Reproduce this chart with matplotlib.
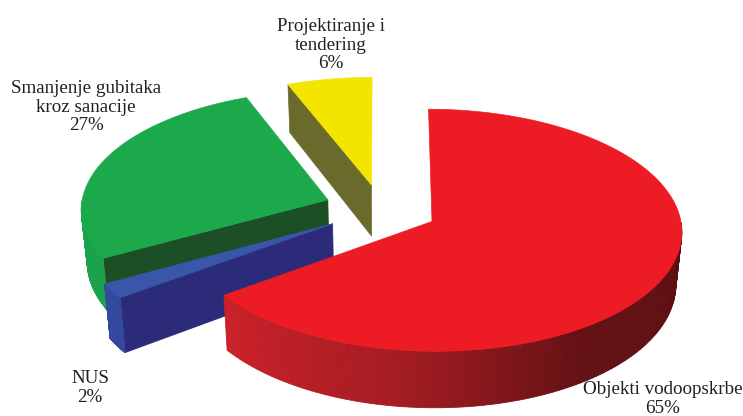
import numpy as np
import matplotlib
matplotlib.use("Agg")
import matplotlib.pyplot as plt
from matplotlib.patches import Polygon
from matplotlib.colors import LinearSegmentedColormap

# data
labels = ["Objekti vodoopskrbe", "NUS", "Smanjenje gubitaka\nkroz sanacije",
          "Projektiranje i\ntendering"]
values = [65, 2, 27, 6]

# style
top_colors = ["#ED1C24", "#3A56A8", "#1BA94C", "#F4E500"]
wall_colors = [[(0.0, "#CC2129"), (0.3, "#A81D23"), (0.6, "#661215"), (1.0, "#5A0F11")],
               [(0.0, "#34489E"), (1.0, "#34489E")],
               [(0.0, "#1DA24C"), (1.0, "#1DA24C")],
               [(0.0, "#6B6B2E"), (1.0, "#6B6B2E")]]
cut_colors = ["#7A1418", "#2B2B7A", "#1C4F25", "#6B6A2D"]
explode = [0.23, 0.23, 0.23, 0.21]
label_pos = [(663, 399), (88, 107), (86, 107), (331, 45)]
label_pos[1] = (90, 388)

# projection (pixel units, y down)
CX, CY = 381, 209
R, T, H = 247, 0.48, 52
K = 0.072


def proj(X, Y, Z):
    s = 1.0 / (1.0 + K * Y)
    sz = 1.0 + 0.02 * Z
    return CX + R * X * s * sz, CY - R * T * Y * s - Z * H * s


fig = plt.figure(figsize=(7.43, 4.16), dpi=100)
ax = fig.add_axes([0, 0, 1, 1])
ax.set_xlim(0, 743)
ax.set_ylim(416, 0)
ax.axis("off")

total = float(sum(values))
cum = np.concatenate([[0], np.cumsum(values)]) / total * 360.0
spans = [(90 - cum[i + 1], 90 - cum[i]) for i in range(len(values))]

slices = []
for i, (t1, t2) in enumerate(spans):
    mid = np.radians((t1 + t2) / 2)
    ox, oy = explode[i] * np.cos(mid), explode[i] * np.sin(mid)
    slices.append((i, t1, t2, ox, oy))

# back to front: yellow, green, blue, red
order = [3, 2, 1, 0]
for i in order:
    _, t1, t2, ox, oy = slices[i]
    th = np.radians(np.linspace(t1, t2, 200))

    # cut faces
    for ang, vis in ((t2, np.cos(np.radians(t2)) < -1e-6),
                     (t1, np.cos(np.radians(t1)) > 1e-6)):
        if not vis:
            continue
        a = np.radians(ang)
        pts = [proj(ox, oy, 0), proj(ox + np.cos(a), oy + np.sin(a), 0),
               proj(ox + np.cos(a), oy + np.sin(a), -1), proj(ox, oy, -1)]
        ax.add_patch(Polygon(pts, closed=True, facecolor=cut_colors[i],
                             edgecolor=cut_colors[i], lw=0.5))

    # outer wall, front part only
    front = np.sin(th) < 0
    if front.any():
        tf = th[front]
        cmap = LinearSegmentedColormap.from_list("w", wall_colors[i])
        n = len(tf)
        for k in range(n - 1):
            a0, a1 = tf[k], tf[k + 1]
            pts = [proj(ox + np.cos(a0), oy + np.sin(a0), 0),
                   proj(ox + np.cos(a1), oy + np.sin(a1), 0),
                   proj(ox + np.cos(a1), oy + np.sin(a1), -1),
                   proj(ox + np.cos(a0), oy + np.sin(a0), -1)]
            c = cmap(k / max(n - 2, 1))
            ax.add_patch(Polygon(pts, closed=True, facecolor=c,
                                 edgecolor=c, lw=0.6))

    # top face
    pts = [proj(ox, oy, 0)] + [proj(ox + np.cos(a), oy + np.sin(a), 0) for a in th]
    ax.add_patch(Polygon(pts, closed=True, facecolor=top_colors[i],
                         edgecolor=top_colors[i], lw=0.5))

for i in range(len(values)):
    x, y = label_pos[i]
    ax.text(x, y, f"{labels[i]}\n{values[i]}%", ha="center", va="center",
            fontsize=13.7, family="Liberation Serif", color="#231F20",
            linespacing=1.12)

fig.savefig("out.png", dpi=100)
